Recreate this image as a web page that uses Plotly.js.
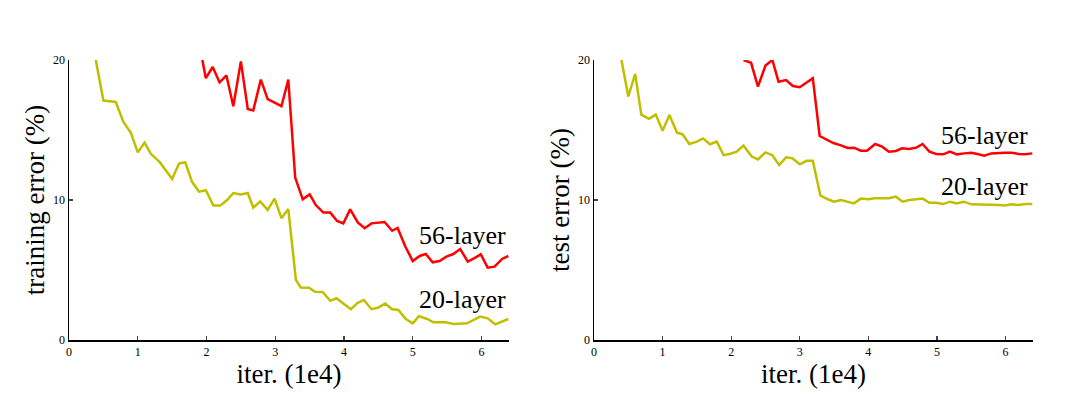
<!DOCTYPE html>
<html>
<head>
<meta charset="utf-8">
<script src="https://cdn.plot.ly/plotly-3.0.1.min.js"></script>
<style>html,body{margin:0;padding:0;background:#fff;}#chart{width:1074px;height:395px;}</style>
</head>
<body>
<div id="chart"></div>
<script>
// Training error (%) vs iterations (1e4)
const train20X = [0.39,0.5,0.59,0.68,0.79,0.90,1.0,1.10,1.19,1.32,1.41,1.50,1.60,1.69,1.79,1.89,1.99,2.10,2.20,2.30,2.39,2.50,2.60,2.68,2.78,2.89,2.99,3.09,3.19,3.30,3.37,3.49,3.58,3.69,3.80,3.89,3.99,4.10,4.20,4.29,4.40,4.49,4.60,4.70,4.79,4.90,5.0,5.09,5.21,5.30,5.48,5.59,5.79,5.98,6.09,6.20,6.39];
const train20Y = [20,17.1,17.05,17.0,15.6,14.8,13.4,14.1,13.3,12.7,12.1,11.5,12.6,12.7,11.3,10.6,10.7,9.6,9.6,10.0,10.5,10.4,10.5,9.45,9.9,9.3,10.1,8.7,9.35,4.3,3.75,3.74,3.45,3.43,2.8,2.98,2.6,2.2,2.66,2.86,2.2,2.3,2.6,2.2,2.14,1.5,1.19,1.7,1.5,1.26,1.26,1.14,1.19,1.67,1.55,1.12,1.5];
const train56X = [1.94,1.99,2.09,2.19,2.29,2.39,2.50,2.60,2.68,2.79,2.89,3.0,3.09,3.19,3.29,3.40,3.50,3.59,3.70,3.80,3.90,3.99,4.09,4.20,4.30,4.40,4.49,4.59,4.70,4.78,4.89,5.0,5.10,5.19,5.29,5.39,5.49,5.59,5.69,5.80,5.89,5.99,6.09,6.19,6.30,6.39];
const train56Y = [20,18.7,19.5,18.4,18.9,16.7,19.9,16.5,16.4,18.6,17.2,16.9,16.7,18.6,11.6,10.05,10.4,9.64,9.1,9.1,8.5,8.33,9.33,8.4,7.98,8.33,8.4,8.43,7.8,8.0,6.7,5.64,6.0,6.14,5.55,5.64,5.95,6.14,6.5,5.6,5.83,6.12,5.17,5.24,5.79,6.0];
// Test error (%) vs iterations (1e4)
const test20X = [0.40,0.50,0.60,0.69,0.80,0.90,1.0,1.10,1.21,1.29,1.39,1.50,1.59,1.69,1.79,1.89,1.99,2.08,2.18,2.30,2.39,2.50,2.60,2.70,2.80,2.89,3.0,3.10,3.19,3.30,3.40,3.50,3.60,3.70,3.79,3.89,4.0,4.09,4.19,4.30,4.40,4.50,4.60,4.69,4.79,4.89,4.99,5.09,5.19,5.29,5.39,5.50,5.60,5.69,5.79,5.90,5.99,6.09,6.19,6.29,6.39];
const test20Y = [20,17.4,19.0,16.1,15.8,16.1,14.95,16.07,14.8,14.7,14.0,14.17,14.4,13.98,14.17,13.2,13.3,13.45,13.88,13.1,12.9,13.4,13.2,12.5,13.05,12.98,12.55,12.8,12.8,10.33,10.07,9.88,10.0,9.9,9.76,10.1,10.05,10.12,10.12,10.12,10.24,9.88,10.0,10.05,10.1,9.8,9.8,9.71,9.88,9.76,9.88,9.69,9.69,9.69,9.69,9.64,9.6,9.69,9.64,9.71,9.71];
const test56X = [2.18,2.29,2.39,2.50,2.60,2.69,2.80,2.90,3.0,3.10,3.19,3.29,3.39,3.49,3.60,3.70,3.79,3.89,3.98,4.10,4.20,4.30,4.40,4.49,4.59,4.70,4.79,4.89,4.99,5.09,5.19,5.29,5.40,5.50,5.59,5.69,5.79,5.90,5.99,6.09,6.19,6.29,6.39];
const test56Y = [20,19.8,18.1,19.6,20.0,18.45,18.57,18.14,18.05,18.4,18.7,14.57,14.3,14.07,13.9,13.72,13.74,13.52,13.52,14.0,13.81,13.45,13.5,13.69,13.64,13.74,14.0,13.45,13.29,13.26,13.45,13.26,13.33,13.38,13.29,13.17,13.33,13.38,13.38,13.38,13.29,13.26,13.33];

const xTickVals = [0,1,2,3,4,5,6];
const yTickVals = [0,10,20];
const seriesNames = ['56-layer','20-layer'];

const RED = '#ff0000', OLIVE = '#bfbf00';
const serif = 'Liberation Serif, Times New Roman, serif';

const traces = [
  {x: train20X, y: train20Y, xaxis:'x', yaxis:'y', mode:'lines', name:seriesNames[1], line:{color:OLIVE, width:2.5}},
  {x: train56X, y: train56Y, xaxis:'x', yaxis:'y', mode:'lines', name:seriesNames[0], line:{color:RED, width:2.5}},
  {x: test20X, y: test20Y, xaxis:'x2', yaxis:'y2', mode:'lines', name:seriesNames[1], line:{color:OLIVE, width:2.5}},
  {x: test56X, y: test56Y, xaxis:'x2', yaxis:'y2', mode:'lines', name:seriesNames[0], line:{color:RED, width:2.5}}
];

function xa(domain){
  return {domain:domain, range:[0,6.4], tickvals:xTickVals, ticks:'inside', ticklen:4, tickwidth:1.2,
    showline:true, linecolor:'#000', linewidth:1.5, showgrid:false, zeroline:false,
    tickfont:{family:serif, size:12, color:'#000'},
    title:{text:'iter. (1e4)', font:{family:serif, size:27, color:'#000'}, standoff:2}};
}
function ya(domain, anchor, title){
  return {domain:domain, anchor:anchor, range:[0,20], tickvals:yTickVals, ticks:'inside', ticklen:4, tickwidth:1.2,
    showline:true, linecolor:'#000', linewidth:1.5, showgrid:false, zeroline:false,
    tickfont:{family:serif, size:12, color:'#000'},
    title:{text:title, font:{family:serif, size:27, color:'#000'}, standoff:0}};
}

const yDom = [1-340/395, 1-60/395];
const layout = {
  width:1074, height:395, margin:{l:0,r:0,t:0,b:0},
  paper_bgcolor:'#fff', plot_bgcolor:'#fff', showlegend:false,
  xaxis: Object.assign(xa([69/1074, 509/1074]), {anchor:'y'}),
  yaxis: ya(yDom, 'x', 'training error (%)'),
  xaxis2: Object.assign(xa([594/1074, 1033/1074]), {anchor:'y2'}),
  yaxis2: ya(yDom, 'x2', 'test error (%)'),
  annotations: [
    {xref:'x', yref:'y', x:5.72, y:7.43, text:seriesNames[0], showarrow:false, font:{family:serif, size:26, color:'#000'}},
    {xref:'x', yref:'y', x:5.72, y:2.86, text:seriesNames[1], showarrow:false, font:{family:serif, size:26, color:'#000'}},
    {xref:'x2', yref:'y2', x:5.69, y:14.64, text:seriesNames[0], showarrow:false, font:{family:serif, size:26, color:'#000'}},
    {xref:'x2', yref:'y2', x:5.69, y:11.0, text:seriesNames[1], showarrow:false, font:{family:serif, size:26, color:'#000'}}
  ]
};
Plotly.newPlot('chart', traces, layout, {staticPlot:true, displayModeBar:false});
</script>
</body>
</html>
